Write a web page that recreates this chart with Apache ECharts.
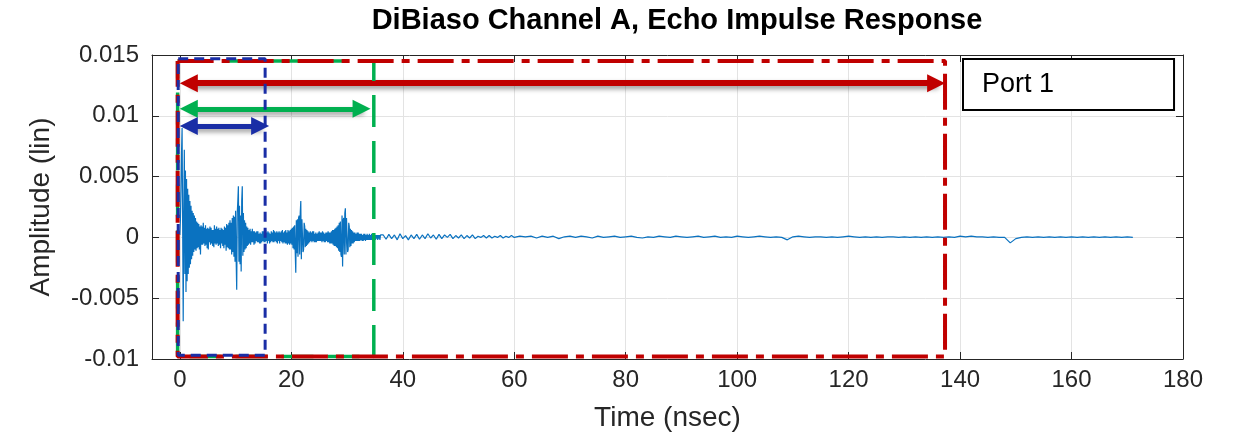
<!DOCTYPE html>
<html>
<head>
<meta charset="utf-8">
<script src="https://cdn.jsdelivr.net/npm/echarts@6/dist/echarts.min.js"></script>
<style>
html,body{margin:0;padding:0;background:#fff;}
#chart{width:1233px;height:440px;}
</style>
</head>
<body>
<div id="chart"></div>
<script>
// ---------- data ----------
const titleText = 'DiBiaso Channel A, Echo Impulse Response';
const xAxisName = 'Time (nsec)';
const yAxisName = 'Amplitude (lin)';
const legendName = 'Port 1';

const xTicks = [0, 20, 40, 60, 80, 100, 120, 140, 160, 180];
const yTicks = [-0.01, -0.005, 0, 0.005, 0.01, 0.015];

// amplitude samples in units of 1e-4
const ampUnit = 1e-4;
// early part: every 0.1 ns from t = 0 to 36 (one row per ns)
const earlyStart = 0;
const earlyStep = 0.1;
const earlyAmp = [
  2, 15, 40, 70, 90, 10, -69, 20, 72, -30,
  55, -45, 48, -36, 40, -30, 35, -25, 30, -22,
  26, -18, 22, -15, 20, -12, 18, -10, 16, -11,
  13, -9, 12, -8, 11, -10, 9, -14, 10, -6,
  9, -6, 12, -5, 8, -7, 10, -6, 7, -9,
  8, -10, 7, -4, 9, -6, 8, -5, 6, -7,
  6, -8, 10, -5, 7, -6, 9, -5, 7, -7,
  8, -6, 6, -9, 8, -5, 7, -7, 6, -9,
  9, -6, 8, -11, 11, -8, 10, -9, 12, -10,
  14, -10, 12, -14, 16, -12, 18, -16, 17, -20,
  22, -18, -43, 20, 30, 42, -20, 26, -22, 18,
  -28, 30, 42, -15, 20, -12, 14, -10, 12, -9,
  9, -7, 8, -6, 6, -5, 7, -6, 5, -4,
  7, -4, 5, -6, 5, -5, 4, -3, 5, -4,
  5, -4, 3, -5, 4, -5, 3, -4, 5, -3,
  5, -4, 6, -4, 6, -3, 4, -5, 5, -3,
  4, -5, 3, -4, 5, -3, 4, -4, 6, -4,
  5, -3, 4, -4, 5, -5, 4, -3, 5, -5,
  4, -3, 5, -4, 6, -5, 4, -4, 5, -5,
  6, -5, 4, -6, 6, -5, 5, -6, 6, -5,
  7, -6, 8, -9, 9, -10, 10, -12, -29, 14,
  -13, 15, -16, 16, 18, -14, 20, 30, -18, 15,
  14, -12, -10, 12, 9, -8, 7, -7, 6, -6,
  5, -5, 4, -4, 5, -3, 4, -4, 5, -3,
  5, -4, 3, -4, 4, -4, 3, -3, 4, -3,
  5, -3, 4, -3, 4, -4, 5, -3, 4, -4,
  3, -4, 4, -3, 4, -4, 5, -4, 4, -5,
  4, -5, 5, -5, 6, -6, 6, -7, 7, -7,
  8, -8, 9, -9, 10, -11, 12, -12, 13, -14,
  -16, 18, -24, 14, 16, -14, 20, 24, -14, 16,
  17, -12, -10, 12, 9, -8, 7, -7, 6, -5,
  5, -5, 4, -4, 4, -3, 3, -3, 4, -3,
  4, -3, 3, -3, 3, -2, 3, -3, 2, -3,
  3, -2, 3, -3, 2, -2, 3, -2, 2, -2,
  3, -2, 2, -2, 3, -2, 2, -3, 2, -2,
  2, -2, 2, -1, 2, -2, 2, -1, 2, -2,
  2
];
// middle part: every 0.5 ns from t = 36.5 to 60
const midStart = 36.5;
const midStep = 0.5;
const midAmp = [
  2, -1.5, 2.5, -1, 2, -2, 3, -1, 1.5, -2,
  2, -1, 2.5, -1.5, 2, -1, 3, -0.5, 2, -1.5,
  2.5, -1, 2, 0, 2.5, -1, 1.5, -0.5, 2, -1,
  1.5, -0.5, 2, -1, 1, 0, 1.5, -0.5, 1.5, -0.5,
  1, 0, 1.5, -0.5, 1, 0, 1.5, 0
];
// late part: every 1 ns from t = 61 to 171
const lateStart = 61;
const lateStep = 1;
const lateAmp = [
  1, 0.5, 1, -0.5, 1, 0,
  1, -1, 0.5, 1, 0, 1, 0.5, -0.5, 1, 0,
  0.5, 1, 0, 0.5, 1, 0, -0.5, 0.5, 0, 1,
  0.5, 0, 1, 0.5, 0, 0.5, 1, 0, 0.5, 1,
  0, 0.5, 0, 1, 0.5, 0, 0.5, 1, 0.5, 0,
  0.5, 0, -2, 0.5, 1, 0.5, 0, 0.5, 0.5, 0,
  0.5, 0, 0.5, 1, 0.5, 0, 0.5, 0, 0.5, 0,
  0.5, 0.5, 0, 0.5, 0, 0.5, 0, 0.5, 0, 0.5,
  0, 0.5, 0, 1, 0.5, 1, 0.5, 0.5, 0, 0.5,
  0, 0, -4.5, -1, 0, 0.5, 0, 0.5, 0, 0.5,
  0, 0.5, 0, 0.5, 0, 0.5, 0, 0.5, 0, 0.5,
  0, 0.5, 0, 0.5, 0
];

// annotation boxes [tStart, tEnd, ampTop, ampBottom]
const redBox = [-0.4, 137.3, 0.0145, -0.0098];
const greenBox = [-0.4, 34.8, 0.0145, -0.0098];
const blueBox = [-0.3, 15.3, 0.0147, -0.0097];
// double arrows [tStart, tEnd, amp]
const redArrow = [1.6, 135.7, 0.01268];
const greenArrow = [1.6, 32.6, 0.01057];
const blueArrow = [1.6, 14.4, 0.00917];

// ---------- build ----------
const signal = [];
earlyAmp.forEach((v, i) => signal.push([earlyStart + i * earlyStep, v * ampUnit]));
midAmp.forEach((v, i) => signal.push([midStart + i * midStep, v * ampUnit]));
lateAmp.forEach((v, i) => signal.push([lateStart + i * lateStep, v * ampUnit]));

function boxPath(b) {
  return [[b[0], b[2]], [b[1], b[2]], [b[1], b[3]], [b[0], b[3]], [b[0], b[2]]];
}
function boxSeries(b, color, width, dash) {
  return {
    type: 'line', data: boxPath(b), showSymbol: false, symbol: 'none',
    silent: true, animation: false, z: 5,
    lineStyle: { color: color, width: width, type: dash, cap: 'butt' }
  };
}
const shadow = { shadowBlur: 5, shadowColor: 'rgba(0,0,0,0.4)', shadowOffsetX: 2, shadowOffsetY: 3 };
function arrowItem(a, color, width) {
  return [
    { coord: [a[0], a[2]], lineStyle: Object.assign({ color: color, width: width, type: 'solid' }, shadow), itemStyle: { color: color } },
    { coord: [a[1], a[2]] }
  ];
}

const fontFam = '"Liberation Sans", Arial, Helvetica, sans-serif';
const txt = '#262626';

const chart = echarts.init(document.getElementById('chart'), null, { renderer: 'canvas' });
chart.setOption({
  animation: false,
  backgroundColor: '#ffffff',
  title: {
    text: titleText, left: 672, top: 1, textAlign: 'center',
    textStyle: { fontFamily: fontFam, fontSize: 29, fontWeight: 'bold', color: '#000' }
  },
  legend: {
    left: 963, top: 59, orient: 'vertical',
    data: [{ name: legendName, icon: 'rect' }],
    itemWidth: 0, itemHeight: 0, itemGap: 0,
    padding: [12, 120, 12, 14],
    backgroundColor: '#ffffff', borderColor: '#000000', borderWidth: 2, borderRadius: 0,
    textStyle: { fontFamily: fontFam, fontSize: 27, color: '#000' },
    selectedMode: false
  },
  grid: { left: 152, right: 50, top: 55, bottom: 81, containLabel: false, outerBoundsMode: 'none' },
  xAxis: [{
    type: 'value', min: -5, max: 180, minInterval: 20, maxInterval: 20,
    name: xAxisName, nameLocation: 'middle', nameGap: 45,
    nameTextStyle: { fontFamily: fontFam, fontSize: 28, color: txt },
    axisLine: { show: true, onZero: false, lineStyle: { color: txt, width: 1 } },
    axisTick: { show: true, inside: true, length: 7, lineStyle: { color: txt } },
    axisLabel: {
      show: true, margin: 9, fontFamily: fontFam, fontSize: 24, color: txt,
      formatter: v => (xTicks.indexOf(v) >= 0 ? String(v) : '')
    },
    splitLine: { show: true, lineStyle: { color: '#e3e3e3', width: 1 } }
  }, {
    type: 'value', position: 'top', min: -5, max: 180, minInterval: 20, maxInterval: 20,
    axisLine: { show: true, onZero: false, lineStyle: { color: txt, width: 1 } },
    axisTick: { show: true, inside: true, length: 7, lineStyle: { color: txt } },
    axisLabel: { show: false }, splitLine: { show: false }
  }],
  yAxis: [{
    type: 'value', min: -0.01, max: 0.015, interval: 0.005,
    name: yAxisName, nameLocation: 'middle', nameGap: 97, nameRotate: 90,
    nameTextStyle: { fontFamily: fontFam, fontSize: 28, color: txt },
    axisLine: { show: true, onZero: false, lineStyle: { color: txt, width: 1 } },
    axisTick: { show: true, inside: true, length: 7, lineStyle: { color: txt } },
    axisLabel: {
      show: true, margin: 13, fontFamily: fontFam, fontSize: 24, color: txt,
      formatter: v => { const t = yTicks.find(y => Math.abs(y - v) < 1e-9); return t === undefined ? '' : String(t); }
    },
    splitLine: { show: true, lineStyle: { color: '#e3e3e3', width: 1 } }
  }, {
    type: 'value', position: 'right', min: -0.01, max: 0.015, interval: 0.005,
    axisLine: { show: true, onZero: false, lineStyle: { color: txt, width: 1 } },
    axisTick: { show: true, inside: true, length: 7, lineStyle: { color: txt } },
    axisLabel: { show: false }, splitLine: { show: false }
  }],
  series: [
    {
      name: legendName, type: 'line', data: signal, showSymbol: false, symbol: 'none',
      lineStyle: { color: '#0a72c0', width: 1.2 }, itemStyle: { color: '#0a72c0' }, z: 3
    },
    boxSeries(greenBox, '#00B050', 3.5, [32, 14]),
    boxSeries(redBox, '#C00000', 4, [36, 8, 8, 8]),
    boxSeries(blueBox, '#1a2ea6', 3, [10, 6]),
    {
      type: 'line', data: [], silent: true, z: 6,
      markLine: {
        silent: true, animation: false,
        symbol: ['triangle', 'triangle'], symbolSize: 18,
        label: { show: false },
        data: [
          arrowItem(redArrow, '#C00000', 6),
          arrowItem(greenArrow, '#00B050', 5),
          arrowItem(blueArrow, '#1a2ea6', 5)
        ]
      }
    }
  ]
});
</script>
</body>
</html>
